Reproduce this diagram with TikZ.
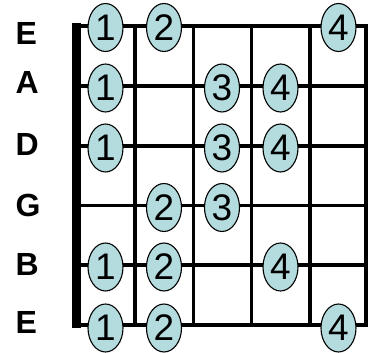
\documentclass[tikz,border=0pt]{standalone}
\usepackage{fontspec}
\setmainfont{Liberation Sans}
\usetikzlibrary{shapes.geometric}
\definecolor{fingerfill}{RGB}{180,220,222}
\begin{document}
\begin{tikzpicture}[x=1pt,y=-1pt,
  gridline/.style={line width=3.8pt,line cap=rect},
  finger/.style={ellipse,draw=black,line width=1.1pt,fill=fingerfill,
    minimum width=35pt,minimum height=48pt,inner sep=0pt,
    font=\fontsize{37}{37}\selectfont},
  strlabel/.style={anchor=west,inner sep=0pt,font=\fontsize{32}{32}\selectfont\bfseries},
  nutbar/.style={fill=black,inner sep=0pt,minimum width=8.5pt,minimum height=305pt}]
\useasboundingbox (0,0) rectangle (368,353);
% string coordinates
\foreach \i/\y in {1/26,2/86,3/146,4/205.5,5/265,6/325}{
  \coordinate (s\i L) at (77,\y);
  \coordinate (s\i R) at (366,\y);
}
% fret coordinates
\foreach \j/\x in {1/135,2/193.5,3/251.5,4/310,5/366}{
  \coordinate (f\j T) at (\x,26);
  \coordinate (f\j B) at (\x,325);
}
\foreach \i in {1,...,6}{\draw[gridline] (s\i L) -- (s\i R);}
\foreach \j in {1,...,5}{\draw[gridline] (f\j T) -- (f\j B);}
\node[nutbar] (nut) at (76.75,175.5) {};
% string labels
\node[strlabel] (lE1) at (15.5,33) {E};
\node[strlabel] (lA) at (15.5,82.5) {A};
\node[strlabel] (lD) at (15.5,144.5) {D};
\node[strlabel] (lG) at (15.5,205) {G};
\node[strlabel] (lB) at (15.5,264) {B};
\node[strlabel] (lE6) at (15.5,322) {E};
% fingers
\node[finger] (e1a) at (105.5,27.5) {1};
\node[finger] (e1b) at (164,27.5) {2};
\node[finger] (e1c) at (338.5,27.5) {4};
\node[finger] (a1) at (105.5,88) {1};
\node[finger] (a3) at (222,88) {3};
\node[finger] (a4) at (280.5,88) {4};
\node[finger] (d1) at (105.5,148) {1};
\node[finger] (d3) at (222,148) {3};
\node[finger] (d4) at (280.5,148) {4};
\node[finger] (g2) at (164,207.5) {2};
\node[finger] (g3) at (222,207.5) {3};
\node[finger] (b1) at (105.5,267) {1};
\node[finger] (b2) at (164,267) {2};
\node[finger] (b4) at (280.5,267) {4};
\node[finger] (e6a) at (105.5,328) {1};
\node[finger] (e6b) at (164,328) {2};
\node[finger] (e6c) at (338.5,328) {4};
\end{tikzpicture}
\end{document}
